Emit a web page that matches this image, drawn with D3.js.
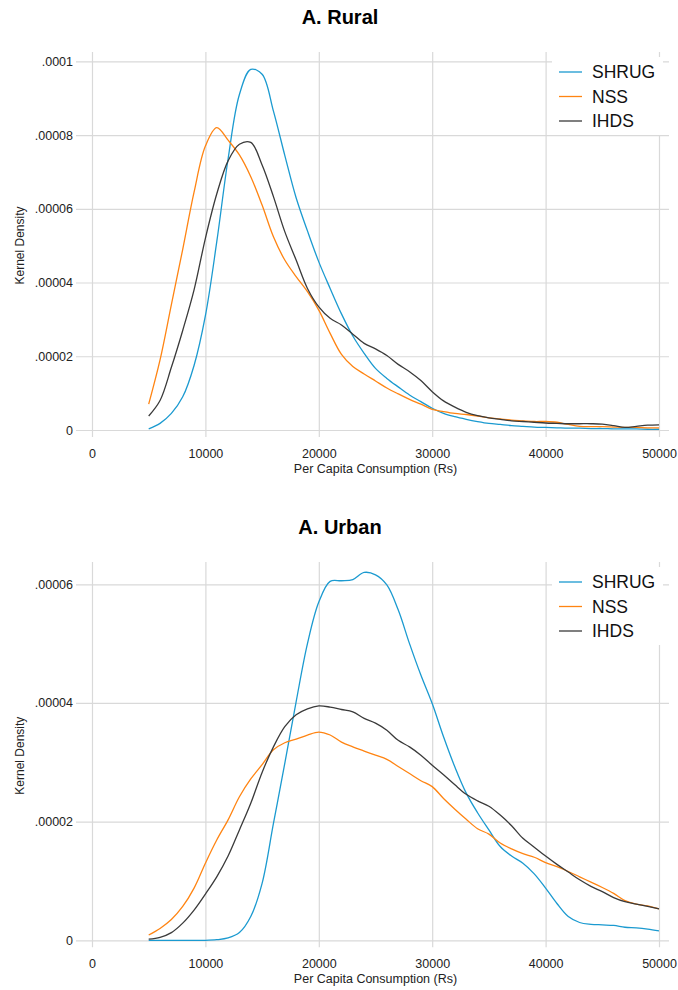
<!DOCTYPE html>
<html lang="en">
<head>
  <meta charset="UTF-8">
  <title>Kernel density: per capita consumption</title>
  <style>
    body { margin: 0; background: #fff; }
    svg { display: block; font-family: "Liberation Sans", Arial, sans-serif; }
    .grid line { stroke: #d9d9d9; stroke-width: 1.2; }
    .grid text { fill: #222; font-size: 12.5px; }
  </style>
</head>
<body>
  <script src="https://cdn.jsdelivr.net/npm/d3@7"></script>
  <script>
  // per capita consumption (Rs), shared by every curve
  var income = [5000, 6000, 7000, 8000, 9000, 10000, 11000, 12000, 13000, 14000,
    15000, 16000, 17000, 18000, 19000, 20000, 21000, 22000, 23000, 24000,
    25000, 26000, 27000, 28000, 29000, 30000, 31000, 32000, 33000, 34000,
    35000, 36000, 37000, 38000, 39000, 40000, 41000, 42000, 43000, 44000,
    45000, 46000, 47000, 48000, 49000, 50000];

  // kernel density, in millionths
  var ruralShrug = [0.3, 1.8, 4.5, 9, 17.5, 31, 51, 73.5, 91, 97.8,
    96.5, 86.5, 74.5, 63, 54, 45.6, 38.4, 31.5, 25.5, 20.8,
    16.7, 14, 11.7, 9.5, 7.7, 5.9, 4.5, 3.6, 2.9, 2.3,
    1.8, 1.5, 1.2, 1.0, 0.8, 0.7, 0.6, 0.5, 0.5, 0.4,
    0.4, 0.3, 0.3, 0.3, 0.2, 0.2];
  var ruralNss = [7, 19, 34, 49, 64.5, 77, 82, 78.6, 74.6, 68.7,
    61, 52.4, 46.1, 41.6, 37.5, 32.5, 26.2, 20.5, 17.2, 15.2,
    13.3, 11.4, 9.8, 8.3, 7, 5.6, 5.0, 4.5, 4.2, 3.8,
    3.3, 3.0, 2.7, 2.5, 2.3, 2.3, 2.1, 1.5, 1.0, 0.9,
    0.9, 0.8, 0.7, 0.7, 0.6, 0.6];
  var ruralIhds = [3.8, 8, 17, 27, 38, 52, 64, 73, 77.5, 78,
    71.9, 63.3, 53.8, 46.1, 38.4, 33.4, 30.3, 28.5, 26, 23.5,
    22, 20.2, 17.8, 15.8, 13.4, 10.4, 7.9, 6.2, 4.8, 3.9,
    3.3, 2.9, 2.5, 2.3, 2.1, 1.9, 1.8, 1.7, 1.7, 1.7,
    1.6, 1.2, 0.7, 1.0, 1.3, 1.4];

  var urbanShrug = [0, 0, 0, 0, 0, 0, 0.1, 0.4, 1.3, 4,
    9.6, 19.7, 29.8, 40.2, 50, 57, 60.5, 60.6, 60.8, 62,
    61.6, 59.9, 55.7, 50, 44.7, 39.9, 34.3, 29.2, 24.8, 21.5,
    18.6, 15.8, 14.2, 13, 11.2, 8.8, 6.2, 4.0, 3.0, 2.7,
    2.6, 2.5, 2.2, 2.1, 1.9, 1.6];
  var urbanNss = [0.9, 2.0, 3.5, 5.7, 8.8, 13, 16.9, 20.3, 24.2, 27.2,
    29.6, 32.1, 33.3, 33.9, 34.6, 35.1, 34.6, 33.4, 32.6, 31.9,
    31.2, 30.5, 29.3, 28.1, 26.9, 25.9, 23.9, 22.1, 20.4, 18.8,
    17.9, 16.4, 15.4, 14.6, 14, 13.1, 12.4, 11.6, 10.7, 9.8,
    8.9, 7.9, 6.7, 6.1, 5.8, 5.3];
  var urbanIhds = [0.2, 0.5, 1.3, 2.9, 5.1, 7.8, 10.7, 14.2, 18.6, 23.1,
    28.3, 32.6, 36, 38, 39, 39.5, 39.3, 38.9, 38.5, 37.4,
    36.6, 35.4, 33.7, 32.6, 31.2, 29.5, 27.9, 26.2, 24.6, 23.5,
    22.6, 21.1, 19.3, 17.2, 15.7, 14.2, 12.8, 11.5, 10.2, 9.1,
    8.2, 7.2, 6.5, 6.1, 5.7, 5.3];

  var sources = ['SHRUG', 'NSS', 'IHDS'];
  var colors = ['#1b9ad0', '#ff8412', '#3a3a3a'];

  var xTicks = [0, 10000, 20000, 30000, 40000, 50000];
  var ruralTicks = [0, 0.00002, 0.00004, 0.00006, 0.00008, 0.0001];
  var urbanTicks = [0, 0.00002, 0.00004, 0.00006];

  var W = 678, H = 990;
  var svg = d3.select('body').append('svg').attr('width', W).attr('height', H);

  var x = d3.scaleLinear().domain([0, 50000]).range([92, 659]);

  var fmt = function (v) { return v === 0 ? '0' : String(v).replace(/^0\./, '.'); };

  function panel(title, top, yMax, yRange, ticks, series) {
    var bottom = yRange[0] + 7;
    var y = d3.scaleLinear().domain([0, yMax]).range(yRange);
    var g = svg.append('g');

    g.append('text')
      .attr('x', 340).attr('y', top - 28)
      .attr('text-anchor', 'middle')
      .style('font-size', '20px').style('font-weight', 'bold')
      .text(title);

    // grid + tick labels
    g.append('g').attr('class', 'grid')
      .attr('transform', 'translate(76,0)')
      .call(d3.axisLeft(y).tickValues(ticks).tickFormat(fmt)
        .tickSize(-(669 - 76)).tickPadding(3))
      .call(function (a) { a.select('.domain').remove(); });

    g.append('g').attr('class', 'grid')
      .attr('transform', 'translate(0,' + bottom + ')')
      .call(d3.axisBottom(x).tickValues(xTicks).tickFormat(d3.format('d'))
        .tickSize(-(bottom - top)).tickPadding(12))
      .call(function (a) { a.select('.domain').remove(); });

    g.append('text')
      .attr('x', 375.5).attr('y', bottom + 36)
      .attr('text-anchor', 'middle')
      .style('font-size', '12.5px').style('fill', '#222')
      .text('Per Capita Consumption (Rs)');

    g.append('text')
      .attr('transform', 'translate(24,' + ((top + bottom) / 2 + 1) + ') rotate(-90)')
      .attr('text-anchor', 'middle')
      .style('font-size', '12px').style('fill', '#222')
      .text('Kernel Density');

    var line = d3.line()
      .x(function (d, i) { return x(income[i]); })
      .y(function (d) { return y(d * 1e-6); })
      .curve(d3.curveCatmullRom.alpha(0.5));

    g.selectAll('path.kd')
      .data(series)
      .enter()
      .append('path')
      .attr('class', 'kd')
      .attr('d', line)
      .attr('fill', 'none')
      .attr('stroke', function (d, i) { return colors[i]; })
      .attr('stroke-width', 1.3);

    // legend
    var lg = g.append('g');
    lg.append('rect')
      .attr('x', 552).attr('y', top + 5)
      .attr('width', 111).attr('height', 78)
      .attr('fill', '#fff');
    sources.forEach(function (s, i) {
      var ly = top + 20 + i * 24.5;
      lg.append('line')
        .attr('x1', 559).attr('x2', 582).attr('y1', ly).attr('y2', ly)
        .attr('stroke', colors[i]).attr('stroke-width', 1.3);
      lg.append('text')
        .attr('x', 592).attr('y', ly).attr('dy', '0.35em')
        .style('font-size', '17.5px').style('fill', '#111')
        .text(s);
    });
  }

  panel('A. Rural', 52, 0.0001, [430, 61.3], ruralTicks, [ruralShrug, ruralNss, ruralIhds]);
  panel('A. Urban', 562, 0.00006, [940.3, 584.3], urbanTicks, [urbanShrug, urbanNss, urbanIhds]);
  </script>
</body>
</html>
